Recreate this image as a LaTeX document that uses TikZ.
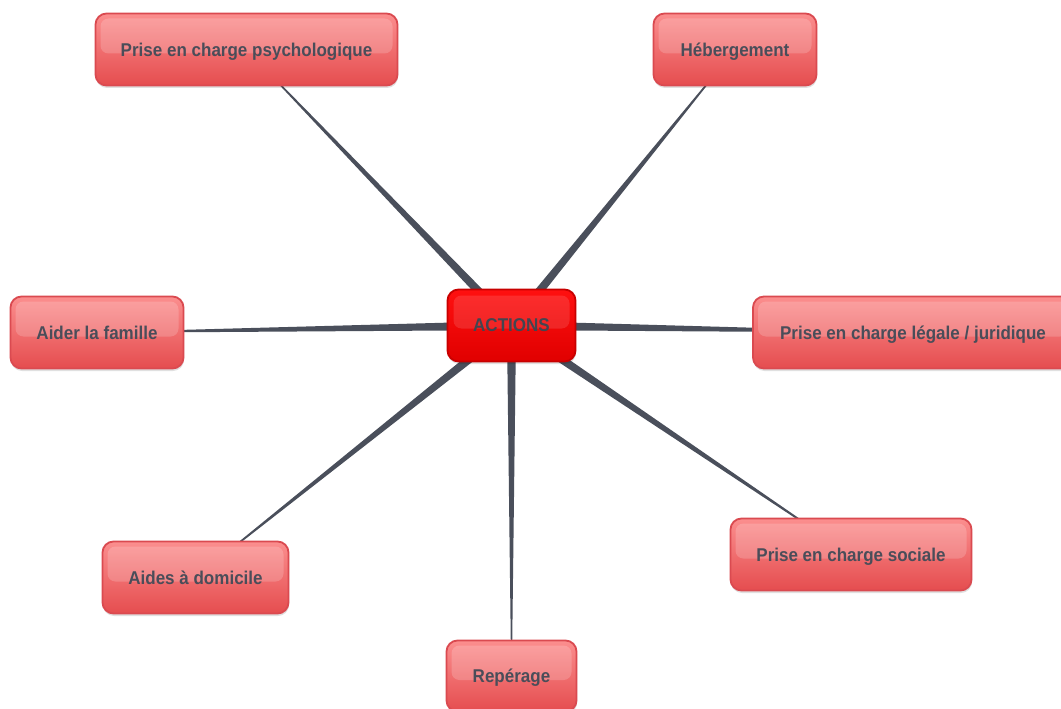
\documentclass[tikz,border=0pt]{standalone}
\usepackage{fontspec}
\setmainfont{Liberation Sans}
\newfontfamily\boxfont[FakeStretch=0.92]{Liberation Sans}
\usetikzlibrary{calc,backgrounds}
\definecolor{spk}{HTML}{4A4F5B}
\definecolor{txt}{HTML}{4A4D59}
\definecolor{boxtop}{HTML}{FB8E8E}
\definecolor{boxbot}{HTML}{E54D4F}
\definecolor{boxedge}{HTML}{DA4A50}
\definecolor{acttop}{HTML}{FF1010}
\definecolor{actbot}{HTML}{E00000}
\definecolor{actedge}{HTML}{C80000}
\newcommand\myspoke[2]{%
  \fill[spk] ($(#1)!4.6pt!90:(#2)$) -- ($(#1)!4.6pt!-90:(#2)$)
     -- ($(#2)!0.3pt!90:(#1)$) -- ($(#2)!0.3pt!-90:(#1)$) -- cycle;}
\tikzset{
  box/.style={draw=boxedge, line width=1.8pt, rounded corners=11pt,
    top color=boxtop, bottom color=boxbot, minimum height=72pt,
    text=txt, font=\boxfont\fontsize{18.5}{20}\selectfont\bfseries, inner sep=0pt,
    text depth=0pt,
    preaction={fill=black, opacity=0.12, transform canvas={shift={(0.5pt,-2.5pt)}}},
    path picture={\fill[white,opacity=0.18,rounded corners=8pt]
      ($(path picture bounding box.north west)+(5,5)$) rectangle
      ($(path picture bounding box.east)+(-5,4)$);}},
  actbox/.style={box, draw=actedge, top color=acttop, bottom color=actbot,
    text=txt!90!black,
    path picture={\fill[white,opacity=0.12,rounded corners=8pt]
      ($(path picture bounding box.north west)+(6,6)$) rectangle
      ($(path picture bounding box.east)+(-6,3)$);}}
}
\begin{document}
\begin{tikzpicture}[x=1pt,y=-1pt]
\useasboundingbox (0,0) rectangle (1061,709);
\node[actbox, minimum width=128pt] (act) at (511.5,325.5) {ACTIONS};
\node[box, minimum width=302pt] (psy) at (246.5,49.5) {Prise en charge psychologique};
\node[box, minimum width=163pt] (heb) at (735,49.5) {Hébergement};
\node[box, minimum width=173pt] (aid) at (97,332.5) {Aider la famille};
\node[box, minimum width=320pt] (leg) at (913,332.5) {Prise en charge légale / juridique};
\node[box, minimum width=186pt] (dom) at (195.5,577.5) {Aides à domicile};
\node[box, minimum width=241pt] (soc) at (851,554.5) {Prise en charge sociale};
\node[box, minimum width=130pt, minimum height=71pt] (rep) at (511.5,676) {Repérage};
\begin{scope}[on background layer]
\myspoke{act.center}{psy.center}
\myspoke{act.center}{heb.center}
\myspoke{act.center}{aid.center}
\myspoke{act.center}{leg.center}
\myspoke{act.center}{dom.center}
\myspoke{act.center}{soc.center}
\myspoke{act.center}{rep.center}
\end{scope}
\end{tikzpicture}
\end{document}
